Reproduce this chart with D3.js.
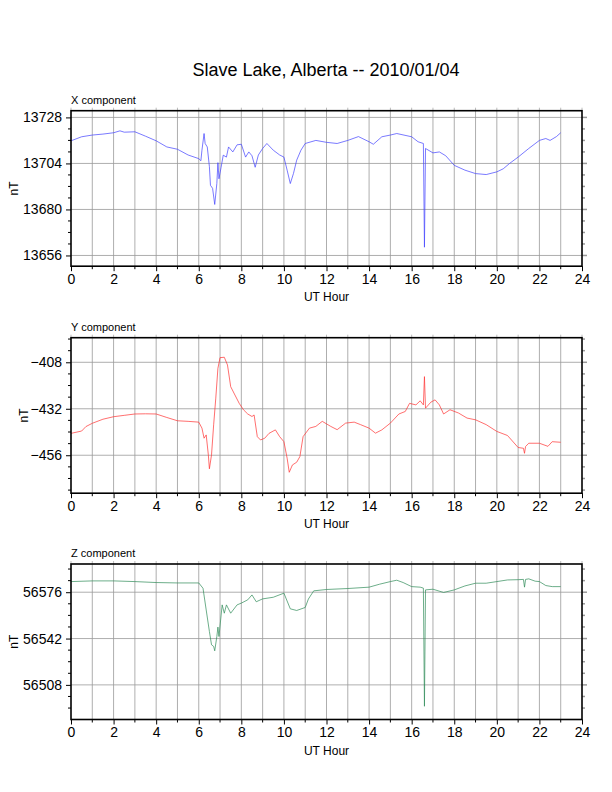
<!DOCTYPE html>
<html><head><meta charset="utf-8">
<script src="https://cdn.jsdelivr.net/npm/d3@7"></script>
<style>body{margin:0;background:#fff}svg{display:block}text{font-family:"Liberation Sans",Arial,sans-serif}</style>
</head><body><svg id="c" width="612" height="792"></svg>
<script>
const title = "Slave Lake, Alberta -- 2010/01/04";
const panelNames = ["X component","Y component","Z component"];
const xTicks = [0,2,4,6,8,10,12,14,16,18,20,22,24];
const xData = [[0,13715.8],[0.5,13717.9],[1,13718.8],[1.5,13719.3],[2,13720],[2.3,13721],[2.5,13720.3],[3,13720.5],[3.5,13718.2],[4,13715.8],[4.5,13712.6],[5,13711.4],[5.5,13708.4],[6,13706.5],[6.1,13705.4],[6.15,13710.9],[6.25,13719.6],[6.3,13714.4],[6.4,13712.6],[6.5,13702.3],[6.55,13692.6],[6.65,13691],[6.75,13682.6],[6.85,13693.6],[6.9,13704.4],[6.95,13696],[7.05,13702],[7.15,13708.3],[7.3,13707.3],[7.4,13712.6],[7.6,13710],[7.8,13713.7],[8,13714],[8.2,13707.3],[8.35,13710],[8.5,13708],[8.65,13702],[8.8,13708.4],[9,13711.8],[9.2,13714.4],[9.5,13710.9],[9.8,13708.4],[10,13707.3],[10.15,13700.5],[10.3,13693.5],[10.45,13698.8],[10.6,13705.7],[10.8,13710.9],[11,13714.4],[11.5,13716],[12,13715],[12.5,13714.4],[13,13716],[13.5,13718],[14,13715.3],[14.2,13714],[14.6,13717.9],[15,13718.8],[15.3,13719.6],[16,13717.9],[16.3,13715.3],[16.55,13714.4],[16.6,13660.3],[16.65,13711.8],[17,13709.5],[17.3,13710],[17.6,13708],[18,13703],[18.5,13700.5],[19,13698.7],[19.5,13698.2],[20,13699.6],[20.3,13701.2],[20.6,13704],[21,13707.3],[21.5,13711.8],[22,13716],[22.3,13717],[22.5,13716],[22.8,13718],[23,13720]];
const yData = [[0,-444.7],[0.5,-443.5],[0.7,-441.2],[1,-439.5],[1.5,-437.4],[2,-436.1],[2.5,-435.4],[3,-434.7],[3.5,-434.6],[4,-434.7],[4.5,-436.5],[5,-438.2],[5.5,-438.5],[6,-438.9],[6.15,-442],[6.25,-447.2],[6.35,-445.5],[6.45,-455.8],[6.5,-463],[6.6,-455.8],[6.7,-440.3],[6.8,-426.5],[6.9,-411.1],[7,-405.6],[7.2,-405.4],[7.35,-409.4],[7.5,-420.6],[7.7,-424.9],[7.9,-429.2],[8.1,-432.5],[8.3,-434.7],[8.5,-436],[8.6,-435.2],[8.75,-446.4],[8.9,-448.1],[9.1,-447.2],[9.3,-444.7],[9.6,-442.9],[9.8,-446.4],[10,-449],[10.15,-457.5],[10.25,-464.8],[10.4,-461],[10.6,-459.6],[10.75,-456.7],[10.9,-446.4],[11.2,-442],[11.5,-441.1],[11.8,-438.5],[12.2,-441.1],[12.5,-442.8],[12.9,-439.4],[13.3,-438.9],[13.6,-440.2],[14,-442],[14.3,-444.6],[14.6,-442.9],[15,-439.4],[15.4,-434.7],[15.7,-433.4],[15.9,-429.2],[16.2,-430],[16.4,-427.9],[16.55,-430],[16.6,-415.4],[16.65,-431.7],[16.9,-428.6],[17.1,-427.4],[17.3,-430],[17.5,-434.7],[17.8,-432.5],[18.2,-434.2],[18.6,-436.8],[19,-437.7],[19.5,-440.2],[20,-443.7],[20.5,-445.8],[21,-452],[21.25,-452.4],[21.3,-455],[21.35,-451.5],[21.5,-449.8],[22,-449.8],[22.4,-451.4],[22.6,-449],[23,-449.3]];
const zData = [[0,56583.8],[1,56584.3],[2,56584.3],[3,56583.8],[4,56583.1],[5,56582.8],[6,56582.8],[6.2,56578.9],[6.35,56563],[6.5,56547.2],[6.6,56537.4],[6.7,56536.2],[6.75,56533],[6.85,56543.5],[6.9,56550.4],[6.95,56543.5],[7.1,56566.7],[7.2,56560.6],[7.3,56566.7],[7.5,56560.6],[7.8,56566.7],[8,56568],[8.3,56570.4],[8.5,56574],[8.7,56569],[9,56571.1],[9.5,56572.3],[10,56575.3],[10.3,56563.8],[10.6,56562.6],[11,56564.8],[11.15,56571],[11.4,56577],[12,56578],[13,56578.7],[14,56579.7],[14.5,56581.9],[15,56583.8],[15.3,56584.8],[15.6,56583.1],[16,56580.1],[16.4,56579.7],[16.55,56579],[16.6,56492.3],[16.65,56577.7],[17,56578.2],[17.5,56575.8],[18,56577.7],[18.5,56580.6],[19,56582.6],[19.5,56582.6],[20,56583.8],[20.5,56585],[21,56585.2],[21.25,56585.4],[21.3,56579.7],[21.35,56585.4],[21.5,56585.8],[21.8,56584.1],[22,56583.8],[22.3,56580.9],[22.6,56580.1],[23,56580.1]];
const panels = [
 {data:xData, dom:[13650.4,13731.5], ticks:[13656,13680,13704,13728], step:6, color:"#4040ff"},
 {data:yData, dom:[-475.6,-395.3], ticks:[-456,-432,-408], step:6, color:"#ff3030"},
 {data:zData, dom:[56482.6,56596.7], ticks:[56508,56542,56576], step:8.5, color:"#2e8b57"}
];
const tops = [110.7, 337.7, 564];
const H = 155.5, L = 71, R = 582;
const svg = d3.select("#c");
svg.append("text").attr("x",326).attr("y",76).attr("text-anchor","middle").attr("font-size",18).text(title);
const x = d3.scaleLinear().domain([0,24]).range([L,R]);
panels.forEach((p,i)=>{
  const t = tops[i];
  const y = d3.scaleLinear().domain(p.dom).range([t+H,t]);
  const g = svg.append("g");
  // grid
  g.selectAll(".vg").data(d3.range(1,24)).join("line").attr("x1",d=>x(d)).attr("x2",d=>x(d)).attr("y1",t).attr("y2",t+H).attr("stroke","#999").attr("stroke-width",0.8);
  g.selectAll(".hg").data(p.ticks).join("line").attr("x1",L).attr("x2",R).attr("y1",d=>y(d)).attr("y2",d=>y(d)).attr("stroke","#999").attr("stroke-width",0.8);
  // minor ticks
  const minor = [];
  for(let v=p.ticks[0]; v<=p.dom[1]; v+=p.step) minor.push(v);
  for(let v=p.ticks[0]-p.step; v>=p.dom[0]; v-=p.step) minor.push(v);
  const maj = new Set(p.ticks);
  // left axis
  const ax = d3.axisLeft(y).tickValues(p.ticks).tickSize(5).tickPadding(4).tickFormat(d3.format("d"));
  const ag = g.append("g").attr("transform",`translate(${L},0)`).call(ax);
  ag.select(".domain").remove();
  ag.selectAll("text").attr("font-size",14).attr("fill","#000");
  g.selectAll(".mt").data(minor.filter(v=>!maj.has(v))).join("line").attr("x1",L-3).attr("x2",L).attr("y1",d=>y(d)).attr("y2",d=>y(d)).attr("stroke","#000");
  g.selectAll(".mtr").data(minor).join("line").attr("x1",R).attr("x2",d=>R+(maj.has(d)?5:3)).attr("y1",d=>y(d)).attr("y2",d=>y(d)).attr("stroke","#999").attr("stroke-width",1.5);
  // bottom axis
  const bx = d3.axisBottom(x).tickValues(xTicks).tickSize(5).tickPadding(3);
  const bg = g.append("g").attr("transform",`translate(0,${t+H})`).call(bx);
  bg.select(".domain").remove();
  bg.selectAll("text").attr("font-size",14).attr("fill","#000");
  g.selectAll(".bm").data(d3.range(1,24,2)).join("line").attr("x1",d=>x(d)).attr("x2",d=>x(d)).attr("y1",t+H).attr("y2",t+H+3).attr("stroke","#000");
  g.selectAll(".tm").data(d3.range(0,25,1)).join("line").attr("x1",d=>x(d)).attr("x2",d=>x(d)).attr("y1",t).attr("y2",t-3).attr("stroke","#bbb");
  // line
  const line = d3.line().x(d=>x(d[0])).y(d=>y(d[1]));
  g.append("path").datum(p.data).attr("d",line).attr("fill","none").attr("stroke",p.color).attr("stroke-width",0.7);
  // frame
  g.append("rect").attr("x",L).attr("y",t).attr("width",R-L).attr("height",H).attr("fill","none").attr("stroke","#000").attr("stroke-width",1.6);
  g.append("text").attr("x",L).attr("y",t-7).attr("font-size",11).text(panelNames[i]);
  g.append("text").attr("x",(L+R)/2).attr("y",t+H+35).attr("text-anchor","middle").attr("font-size",12).text("UT Hour");
  g.append("text").attr("transform",`translate(${i==1?28:18},${t+H/2}) rotate(-90)`).attr("text-anchor","middle").attr("font-size",12).text("nT");
});
</script></body></html>
